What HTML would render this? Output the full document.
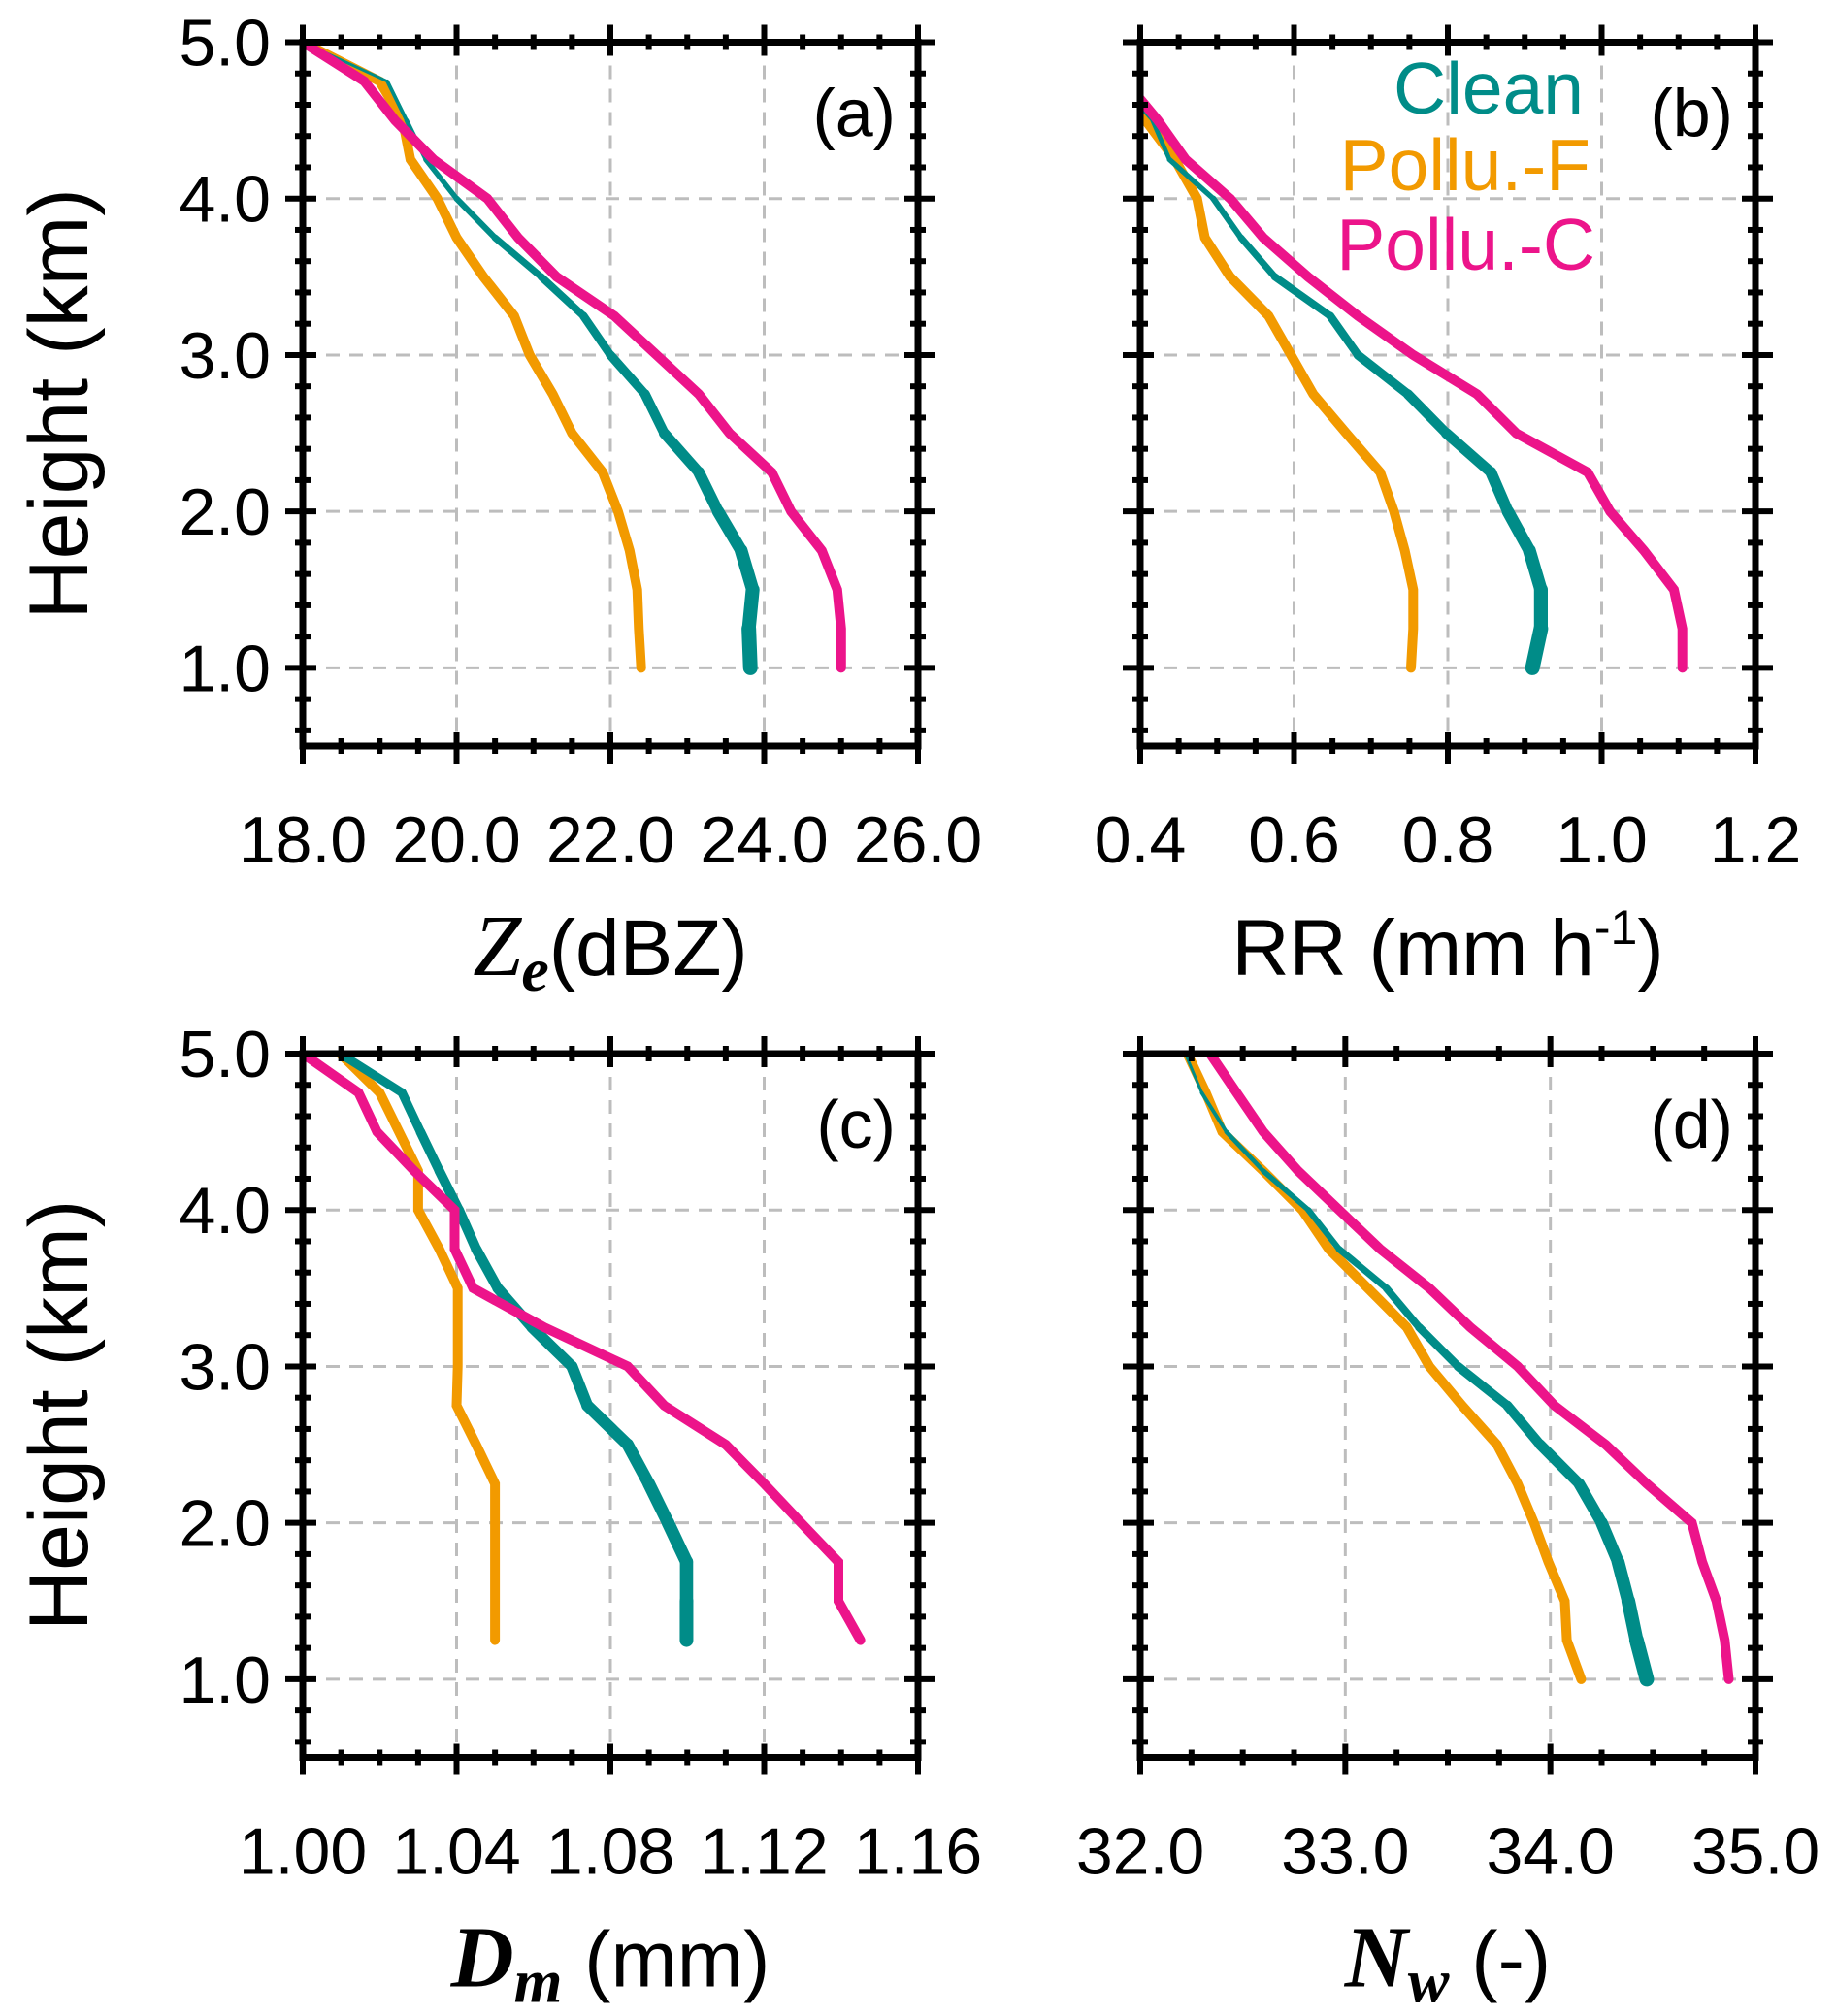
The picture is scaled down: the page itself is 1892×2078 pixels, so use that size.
<!DOCTYPE html>
<html><head><meta charset="utf-8">
<style>
html,body{margin:0;padding:0;background:#fff;}
svg{display:block;font-family:"Liberation Sans",Arial,sans-serif;}
</style></head>
<body>
<svg id="fig" width="1892" height="2078" viewBox="0 0 1892 2078" xmlns="http://www.w3.org/2000/svg">
<defs>
<clipPath id="clipA"><rect x="312" y="43" width="634" height="726"/></clipPath>
<clipPath id="clipB"><rect x="1175" y="43" width="633" height="726"/></clipPath>
<clipPath id="clipC"><rect x="312" y="1086" width="634" height="726"/></clipPath>
<clipPath id="clipD"><rect x="1175" y="1086" width="633" height="726"/></clipPath>
</defs>
</svg>
<script>
// heights (km) shared by all profiles
const heights = [5.0,4.75,4.5,4.25,4.0,3.75,3.5,3.25,3.0,2.75,2.5,2.25,2.0,1.75,1.5,1.25,1.0];
const heightsDm = [5.0,4.75,4.5,4.25,4.0,3.75,3.5,3.25,3.0,2.75,2.5,2.25,2.0,1.75,1.5,1.25];
// (a) Ze
const zeClean = [18.0,19.1,19.35,19.6,20.0,20.5,21.1,21.65,22.0,22.45,22.7,23.15,23.4,23.7,23.85,23.8,23.82];
const zePolluF = [18.0,19.0,19.3,19.4,19.75,20.0,20.35,20.75,20.95,21.25,21.5,21.9,22.1,22.25,22.35,22.37,22.4];
const zePolluC = [18.0,18.8,19.2,19.7,20.4,20.8,21.3,22.05,22.6,23.15,23.55,24.1,24.35,24.75,24.95,25.0,25.0];
// (b) RR
const rrClean = [0.34,0.37,0.416,0.438,0.495,0.531,0.575,0.647,0.683,0.748,0.798,0.856,0.878,0.906,0.921,0.921,0.91];
const rrPolluF = [0.36,0.385,0.407,0.445,0.474,0.484,0.517,0.567,0.596,0.625,0.668,0.712,0.73,0.744,0.755,0.755,0.752];
const rrPolluC = [0.35,0.381,0.423,0.459,0.517,0.56,0.618,0.683,0.755,0.838,0.889,0.982,1.011,1.055,1.094,1.105,1.105];
// (c) Dm
const dmClean = [1.0097,1.0258,1.0306,1.0355,1.0406,1.0451,1.0507,1.0596,1.070,1.074,1.0845,1.090,1.095,1.0998,1.0998,1.0998];
const dmPolluF = [1.0097,1.020,1.025,1.030,1.030,1.0355,1.0403,1.0403,1.0403,1.040,1.0451,1.050,1.050,1.050,1.050,1.050];
const dmPolluC = [1.000,1.0145,1.0193,1.029,1.0395,1.0395,1.0443,1.0628,1.0845,1.094,1.110,1.120,1.1296,1.1393,1.1393,1.145];
// (d) Nw
const nwClean = [32.22,32.30,32.42,32.60,32.82,32.97,33.20,33.36,33.55,33.79,33.95,34.14,34.25,34.33,34.38,34.42,34.47];
const nwPolluF = [32.23,32.32,32.40,32.60,32.79,32.92,33.11,33.30,33.41,33.57,33.74,33.84,33.92,33.99,34.07,34.08,34.15];
const nwPolluC = [32.34,32.47,32.60,32.77,32.97,33.17,33.41,33.61,33.84,34.02,34.27,34.47,34.69,34.74,34.81,34.85,34.87];
// tick labels
const yTickLabels = ["1.0","2.0","3.0","4.0","5.0"];
const xTicksA = ["18.0","20.0","22.0","24.0","26.0"];
const xTicksB = ["0.4","0.6","0.8","1.0","1.2"];
const xTicksC = ["1.00","1.04","1.08","1.12","1.16"];
const xTicksD = ["32.0","33.0","34.0","35.0"];
const legendLabels = ["Clean","Pollu.-F","Pollu.-C"];

const NS="http://www.w3.org/2000/svg";
const svg=document.getElementById('fig');
const COL={clean:"#008C88",f:"#F29A00",c:"#EC148A"};
function mk(tag,attrs,parent){const e=document.createElementNS(NS,tag);for(const k in attrs)e.setAttribute(k,attrs[k]);(parent||svg).appendChild(e);return e;}

function panel(p){
  const g=mk('g',{});
  
  
  const L=p.left,R=p.left+634,T=p.top,B=p.top+725.5;
  const sx=v=>L+(v-p.xmin)/(p.xmax-p.xmin)*(R-L);
  const sy=h=>T+(5.0-h)/4.5*(B-T);
  const grid=mk('g',{stroke:"#bdbdbd","stroke-width":3,"stroke-dasharray":"14,10",fill:"none"},g);
  
  
  for(let i=1;i<p.xlabels.length-1;i++){const x=sx(parseFloat(p.xlabels[i]));mk('line',{x1:x,x2:x,y1:T,y2:B},grid);}
  for(let i=0;i<4;i++){const y=sy(parseFloat(yTickLabels[i]));mk('line',{x1:L,x2:R,y1:y,y2:y},grid);}
  const series=[[p.f,COL.f,'polluted-f-line'],[p.clean,COL.clean,'clean-line'],[p.c,COL.c,'polluted-c-line']];
  const sg=mk('g',{"clip-path":`url(#${p.clip})`},g);
  series.forEach(([vals,col,nm])=>{
    const hs=p.hs;
    if(nm==='clean-line'){
      const cg=mk('g',{},sg);
      
      
      for(let i=0;i<vals.length-1;i++){
        const t=i/(vals.length-2);
        const w=p.w0+(p.w1-p.w0)*t;
        const seg=mk('line',{x1:sx(vals[i]),y1:sy(hs[i]),x2:sx(vals[i+1]),y2:sy(hs[i+1]),stroke:col,"stroke-width":w,"stroke-linecap":"round"},cg);
        
        
      }
    } else {
      const pts=vals.map((v,i)=>sx(v).toFixed(1)+","+sy(hs[i]).toFixed(1)).join(" ");
      const pl=mk('polyline',{points:pts,fill:"none",stroke:col,"stroke-width":10,"stroke-linejoin":"miter","stroke-linecap":"round"},sg);
      
      
    }
  });
  const tk=mk('g',{stroke:"#000","stroke-width":6},g);
  
  
  for(let h=0.6;h<5.01;h+=0.2){
    const y=sy(h);const major=Math.abs(h-Math.round(h))<0.01;
    const o=major?18:8,i2=major?14:8;
    mk('line',{x1:L-o,x2:L+i2,y1:y,y2:y},tk);
    mk('line',{x1:R-i2,x2:R+o,y1:y,y2:y},tk);
  }
  const nmin=p.xminor;
  for(let k=0;k<=nmin;k++){
    const x=L+k*(R-L)/nmin;const major=(k%p.xmajorEvery===0);
    const o=major?18:8,i2=major?14:8;
    mk('line',{x1:x,x2:x,y1:B-i2,y2:B+o},tk);
    mk('line',{x1:x,x2:x,y1:T-o,y2:T+i2},tk);
  }
  const fr=mk('rect',{x:L,y:T,width:R-L,height:B-T,fill:"none",stroke:"#000","stroke-width":7},g);
  
  
  p.xlabels.forEach(s=>{
    const t=mk('text',{x:sx(parseFloat(s)),y:B+120,"text-anchor":"middle","font-size":68,fill:"#000"},g);
    t.textContent=s;
    
    
  });
  if(p.ylabels){
    yTickLabels.forEach(s=>{
      const t=mk('text',{x:L-33,y:sy(parseFloat(s))+24,"text-anchor":"end","font-size":68,fill:"#000"},g);
      t.textContent=s;
      
      
    });
    const yl=mk('text',{x:0,y:0,"text-anchor":"middle","font-size":86,fill:"#000",transform:`translate(90,${(T+B)/2+10}) rotate(-90)`},g);
    yl.textContent="Height (km)";
    
    
  }
  const pl=mk('text',{x:R-23,y:T+97,"text-anchor":"end","font-size":70,fill:"#000"},g);
  pl.textContent=p.label;
  
  
  const xt=mk('text',{x:(L+R)/2,y:B+236,"text-anchor":"middle","font-size":82,fill:"#000"},g);
  xt.innerHTML=p.xtitle;
  
  
  return g;
}

panel({name:'panel-a-ze',left:312,top:43.5,xmin:18,xmax:26,xlabels:xTicksA,xminor:16,xmajorEvery:4,clip:'clipA',hs:heights,clean:zeClean,f:zePolluF,c:zePolluC,w0:3,w1:15,ylabels:true,label:'(a)',
  xtitle:'<tspan font-family="Liberation Serif,serif" font-style="italic" font-size="90">Z</tspan><tspan font-family="Liberation Serif,serif" font-style="italic" font-weight="bold" font-size="64" dy="16">e</tspan><tspan dy="-16">(dBZ)</tspan>'});
panel({name:'panel-b-rr',left:1175,top:43.5,xmin:0.4,xmax:1.2,xlabels:xTicksB,xminor:16,xmajorEvery:4,clip:'clipB',hs:heights,clean:rrClean,f:rrPolluF,c:rrPolluC,w0:3,w1:15,ylabels:false,label:'(b)',
  xtitle:'RR (mm h<tspan font-size="50" dy="-32">-1</tspan><tspan dy="32">)</tspan>'});
panel({name:'panel-c-dm',left:312,top:1086,xmin:1.0,xmax:1.16,xlabels:xTicksC,xminor:16,xmajorEvery:4,clip:'clipC',hs:heightsDm,clean:dmClean,f:dmPolluF,c:dmPolluC,w0:9,w1:14,ylabels:true,label:'(c)',
  xtitle:'<tspan font-family="Liberation Serif,serif" font-style="italic" font-weight="bold" font-size="90">D</tspan><tspan font-family="Liberation Serif,serif" font-style="italic" font-weight="bold" font-size="64" dy="16">m</tspan><tspan dy="-16"> (mm)</tspan>'});
panel({name:'panel-d-nw',left:1175,top:1086,xmin:32,xmax:35,xlabels:xTicksD,xminor:12,xmajorEvery:4,clip:'clipD',hs:heights,clean:nwClean,f:nwPolluF,c:nwPolluC,w0:3,w1:15,ylabels:false,label:'(d)',
  xtitle:'<tspan font-family="Liberation Serif,serif" font-style="italic" font-weight="bold" font-size="90">N</tspan><tspan font-family="Liberation Serif,serif" font-style="italic" font-weight="bold" font-size="64" dy="16">w</tspan><tspan dy="-16"> (-)</tspan>'});

const legCols=[COL.clean,COL.f,COL.c];
const legX=[1632,1639,1644];
const legY=[117,196,278];
legendLabels.forEach((s,i)=>{
  const t=mk('text',{x:legX[i],y:legY[i],"text-anchor":"end","font-size":75,fill:legCols[i]});
  t.textContent=s;
  
  
});
</script>
</body></html>
